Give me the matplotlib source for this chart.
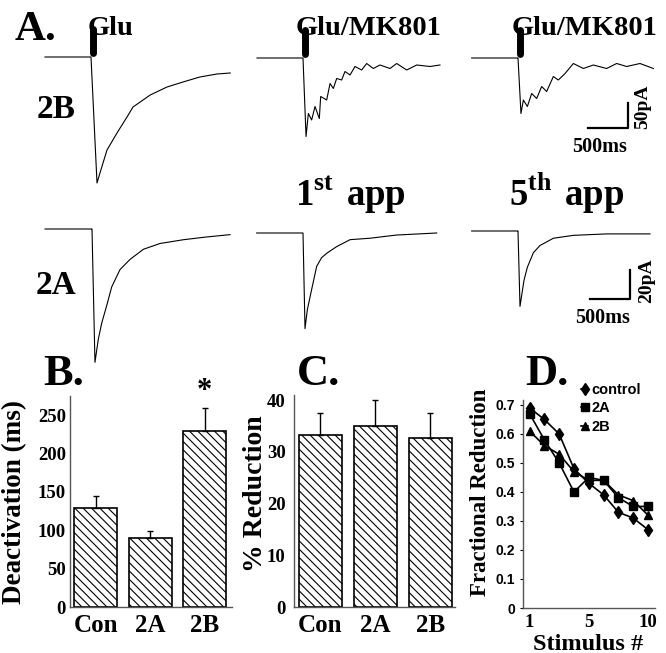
import numpy as np
import matplotlib
matplotlib.use("Agg")
import matplotlib.pyplot as plt

W, H = 666, 653
SERIF = "Liberation Serif"
SANS = "Liberation Sans"
plt.rcParams.update({"font.family": SERIF, "font.weight": "bold",
                     "mathtext.fontset": "custom",
                     "mathtext.bf": "Liberation Serif:bold",
                     "hatch.linewidth": 0.8})

# ── Panel A: current traces (ms from onset, pA) ─────────────────────────────
t_2b_glu = [-575, -10, 0, 75, 112, 200, 325, 450, 525, 740, 950, 1150, 1360, 1575, 1740]
i_2b_glu = [0, 0, 0, -252, -232, -186, -152, -120, -100, -76, -60, -50, -40, -34, -32]

t_2b_1st = [-575, -12, 0, 38, 67, 108, 150, 204, 221, 296, 338, 379, 421, 483, 525,
            588, 650, 733, 796, 879, 962, 1088, 1171, 1296, 1421, 1588, 1712]
i_2b_1st = [0, 0, 0, -157, -111, -124, -97, -121, -77, -84, -51, -61, -41, -44, -27,
            -34, -17, -24, -11, -21, -14, -21, -11, -24, -14, -17, -14]

t_2b_5th = [-579, -9, 0, 37, 67, 117, 171, 233, 296, 358, 442, 504, 588, 692, 817,
            942, 1108, 1233, 1358, 1525, 1692]
i_2b_5th = [0, 0, 0, -111, -84, -97, -71, -81, -57, -67, -37, -44, -31, -11, -21,
            -14, -21, -11, -17, -11, -21]

t_2a_glu = [-587, -4, 0, 37, 79, 121, 183, 246, 350, 475, 642, 850, 1142, 1433, 1725]
i_2a_glu = [0, 0, 0, -92, -76, -65, -53, -40, -28, -21, -14, -10, -7.4, -5.5, -3.9]

t_2a_1st = [-579, -17, 0, 25, 54, 108, 171, 233, 296, 421, 588, 838, 1171, 1671]
i_2a_1st = [0, 0, 0, -66, -53, -39, -23, -17, -14, -9.4, -4.6, -3.6, -1.4, 0]

t_2a_5th = [-579, -9, 0, 25, 75, 117, 192, 275, 442, 692, 1108, 1650]
i_2a_5th = [0, 0, 0, -52, -34, -25, -15, -10, -5, -3, -2, -2]

GLU_MS = 20                 # application marker time
SCALE_MS = 500
SCALE_PA_2B, SCALE_PA_2A = 50, 20

# ── Panels B, C ─────────────────────────────────────────────────────────────
groups = ["Con", "2A", "2B"]
deact_ms = [129, 90, 230]
deact_err = [16, 9, 30]
reduction_pct = [33.2, 35.0, 32.6]
reduction_err = [4.3, 5.0, 5.0]

# ── Panel D ─────────────────────────────────────────────────────────────────
stim = [1, 2, 3, 4, 5, 6, 7, 8, 9]
stim_ticks = [1, 5, 9]
stim_ticklabels = ["1", "5", "10"]
frac_control = [0.69, 0.65, 0.60, 0.48, 0.43, 0.39, 0.33, 0.31, 0.27]
frac_2a = [0.67, 0.58, 0.50, 0.40, 0.45, 0.44, 0.38, 0.35, 0.35]
frac_2b = [0.61, 0.56, 0.53, 0.47, 0.44, 0.44, 0.39, 0.37, 0.32]

fig = plt.figure(figsize=(W / 100, H / 100), dpi=100)


def px_axes(left, top, right, bottom):
    return fig.add_axes([left / W, 1 - bottom / H, (right - left) / W, (bottom - top) / H])


def ftext(x, y, s, **kw):
    return fig.text(x / W, 1 - y / H, s, **kw)


def trace_axes(onset_px, base_px, ms_px, pa_px, xlim, ylim):
    ax = px_axes(onset_px + xlim[0] / ms_px, base_px - ylim[1] / pa_px,
                 onset_px + xlim[1] / ms_px, base_px - ylim[0] / pa_px)
    ax.set_xlim(xlim)
    ax.set_ylim(ylim)
    ax.axis("off")
    return ax


traces = [
    (t_2b_glu, i_2b_glu, 91, 57, 2.0, (-270, 84)),
    (t_2b_1st, i_2b_1st, 303, 58, 2.0, (-270, 84)),
    (t_2b_5th, i_2b_5th, 518, 58, 2.0, (-270, 84)),
    (t_2a_glu, i_2a_glu, 92, 229, 0.69, (-100, 20)),
    (t_2a_1st, i_2a_1st, 303, 233, 0.69, (-100, 20)),
    (t_2a_5th, i_2a_5th, 518, 231, 0.69, (-100, 20)),
]
tr_axes = []
for t, i, onset, base, pa_px, ylim in traces:
    ax = trace_axes(onset, base, 12.5, pa_px, (-600, 1800), ylim)
    ax.plot(t, i, color="black", lw=0.8)
    tr_axes.append(ax)

# application markers (top row)
for ax in tr_axes[:3]:
    ax.plot([GLU_MS, GLU_MS], [8, 56], color="black", lw=5,
            solid_capstyle="round", clip_on=False)

# scale bars
ax = tr_axes[2]
x0, y0 = 875, -140
ax.plot([x0, x0 + SCALE_MS, x0 + SCALE_MS], [y0, y0, y0 + SCALE_PA_2B],
        color="black", lw=1.6, clip_on=False)
ax = tr_axes[5]
x0, y0 = 900, -47
ax.plot([x0, x0 + SCALE_MS, x0 + SCALE_MS], [y0, y0, y0 + SCALE_PA_2A],
        color="black", lw=1.6, clip_on=False)

ftext(600, 147, "500ms", fontsize=14.5, ha="center", va="center")
ftext(603, 318, "500ms", fontsize=14.5, ha="center", va="center")
ftext(643, 107, "50pA", fontsize=14, ha="center", va="center", rotation=90)
ftext(647, 281, "20pA", fontsize=14, ha="center", va="center", rotation=90)

ftext(15, 40, "A.", fontsize=31, va="baseline")
ftext(88, 35, "Glu", fontsize=20.5, va="baseline")
ftext(296, 35, "Glu/MK801", fontsize=20.5, va="baseline")
ftext(512, 35, "Glu/MK801", fontsize=20.5, va="baseline")
ftext(56, 110, "2B", fontsize=24, ha="center", va="center")
ftext(56, 285, "2A", fontsize=24, ha="center", va="center")
ftext(350, 206, r"$\mathbf{1}^{\mathbf{st}}\ \mathbf{app}$", fontsize=26.5,
      ha="center", va="baseline")
ftext(567, 206, r"$\mathbf{5}^{\mathbf{th}}\ \mathbf{app}$", fontsize=26.5,
      ha="center", va="baseline")


def style_bar_axes(ax):
    for s in ("top", "right"):
        ax.spines[s].set_visible(False)
    for s in ("left", "bottom"):
        ax.spines[s].set_linewidth(1.0)
        ax.spines[s].set_color("#555555")
    ax.tick_params(axis="x", length=0, pad=5, labelsize=18)
    ax.tick_params(axis="y", length=0, pad=3, labelsize=13.5)
    for lab in ax.get_xticklabels() + ax.get_yticklabels():
        lab.set_fontweight("bold")


x = np.arange(len(groups))

# ── B ──
axB = px_axes(70, 396, 232, 607)
axB.bar(x, deact_ms, width=0.79, color="white", edgecolor="black", lw=1.2,
        hatch="\\\\\\\\")
axB.errorbar(x, deact_ms, yerr=[np.zeros(3), deact_err], fmt="none",
             ecolor="black", elinewidth=1.0, capsize=2.5, capthick=1.0)
axB.set_xlim(-0.47, 2.5)
axB.set_ylim(0, 275)
axB.set_yticks([0, 50, 100, 150, 200, 250])
axB.set_xticks(x)
axB.set_xticklabels(groups)
style_bar_axes(axB)
axB.text(2, deact_ms[2] + deact_err[2] + 2, "*", fontsize=22, ha="center",
         va="bottom")

# ── C ──
axC = px_axes(294, 395, 455, 607)
axC.bar(x, reduction_pct, width=0.78, color="white", edgecolor="black", lw=1.2,
        hatch="\\\\\\\\")
axC.errorbar(x, reduction_pct, yerr=[np.zeros(3), reduction_err], fmt="none",
             ecolor="black", elinewidth=1.0, capsize=2.5, capthick=1.0)
axC.set_xlim(-0.48, 2.45)
axC.set_ylim(0, 41)
axC.set_yticks([0, 10, 20, 30, 40])
axC.set_xticks(x)
axC.set_xticklabels(groups)
style_bar_axes(axC)
axC.tick_params(axis="y", pad=6)

ftext(15, 502, "Deactivation (ms)", fontsize=19.5, rotation=90, ha="center",
      va="center")
ftext(256, 494, "% Reduction", fontsize=20, rotation=90, ha="center", va="center")

# ── D ──
axD = px_axes(523, 400, 655, 608)
axD.plot(stim, frac_control, color="black", lw=1.2, marker="d", ms=6.5,
         label="control")
axD.plot(stim, frac_2a, color="black", lw=1.2, marker="s", ms=5.5, label="2A")
axD.plot(stim, frac_2b, color="black", lw=1.2, marker="^", ms=6, label="2B")
axD.set_xlim(0.56, 9.47)
axD.set_ylim(0, 0.717)
axD.set_yticks([0, 0.1, 0.2, 0.3, 0.4, 0.5, 0.6, 0.7])
axD.set_yticklabels(["0", "0.1", "0.2", "0.3", "0.4", "0.5", "0.6", "0.7"],
                    fontfamily=SANS, fontweight="bold", fontsize=10)
axD.set_xticks(stim_ticks)
axD.set_xticklabels(stim_ticklabels, fontsize=13.5, fontweight="bold")
for s in ("top", "right"):
    axD.spines[s].set_visible(False)
for s in ("left", "bottom"):
    axD.spines[s].set_linewidth(1.0)
    axD.spines[s].set_color("#555555")
axD.tick_params(axis="y", length=2.5, pad=3)
axD.tick_params(axis="x", length=0, pad=4)
axD.legend(loc="upper left", bbox_to_anchor=(581 / W, 1 - 383 / H),
           bbox_transform=fig.transFigure, frameon=False, handlelength=0.5,
           handletextpad=0.2, labelspacing=0.3, borderpad=0, borderaxespad=0,
           prop={"family": SANS, "size": 10.5})
ftext(480, 492, "Fractional Reduction", fontsize=16.5, rotation=90, ha="center",
      va="center")
ftext(588, 644, "Stimulus #", fontsize=17.5, ha="center", va="center")

ftext(43, 385, "B.", fontsize=32, va="baseline")
ftext(297, 385, "C.", fontsize=32, va="baseline")
ftext(525, 385, "D.", fontsize=32, va="baseline")

fig.savefig("out.png", dpi=100)
